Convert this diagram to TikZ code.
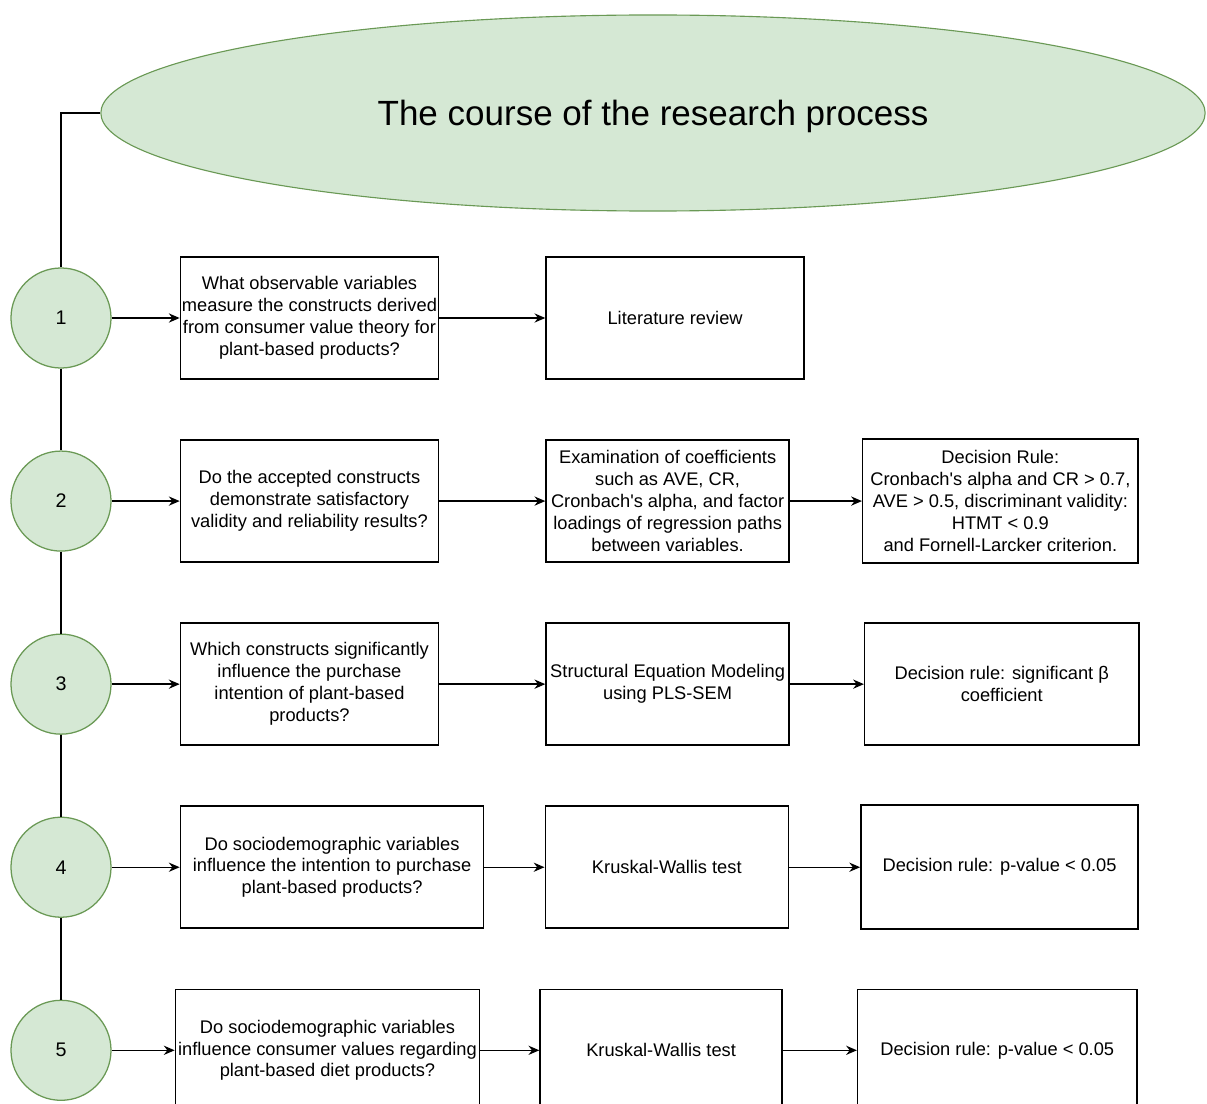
\documentclass[tikz,border=0pt]{standalone}
\usepackage{fontspec}
\setmainfont{Liberation Sans}
\usetikzlibrary{shapes.geometric, arrows.meta, positioning}
\definecolor{nodegreen}{HTML}{D5E8D4}
\definecolor{edgegreen}{HTML}{6A9955}

\begin{document}
\begin{tikzpicture}[
    x=0.025cm, y=-0.025cm,
    qbox/.style={draw=black, line width=1.1pt, fill=white, font=\fontsize{13}{15.6}\selectfont, align=center, inner sep=1pt, minimum height=3.05cm},
    stepnum/.style={circle, draw=edgegreen, fill=nodegreen, line width=0.9pt, minimum size=2.5cm, inner sep=0pt, font=\fontsize{14}{16}\selectfont},
    banner/.style={ellipse, draw=edgegreen, fill=nodegreen, line width=0.8pt, minimum width=27.6cm, minimum height=4.9cm, inner sep=0pt, text depth=0pt, font=\fontsize{24.9}{28}\selectfont},
    arrow/.style={-{Stealth[length=2.7mm, width=2.3mm]}, line width=1pt, black},
    link/.style={line width=1pt, black}
]
\useasboundingbox (0,0) rectangle (1207,1103);
\clip (0,0) rectangle (1207,1103);

% Title
\node (title) [banner] at (653,113) {The course of the research process};

% Steps
\node (c1) [stepnum] at (61,318) {1};
\node (c2) [stepnum, below=2.044cm of c1] {2};
\node (c3) [stepnum, below=2.044cm of c2] {3};
\node (c4) [stepnum, below=2.044cm of c3] {4};
\node (c5) [stepnum, below=2.044cm of c4] {5};

% 1. Observable variables
\node (q1) [qbox, minimum width=6.45cm, right=1.7cm of c1] {What observable variables\\measure the constructs derived\\from consumer value theory for\\plant-based products?};
\node (m1) [qbox, minimum width=6.45cm, right=2.65cm of q1] {Literature review};

% 2. Validity and reliability
\node (q2) [qbox, minimum width=6.45cm, right=1.7cm of c2] {Do the accepted constructs\\demonstrate satisfactory\\validity and reliability results?};
\node (m2) [qbox, minimum width=6.075cm, right=2.65cm of q2] {Examination of coefficients\\such as AVE, CR,\\Cronbach\textquotesingle s alpha, and factor\\loadings of regression paths\\between variables.};
\node (r2) [qbox, minimum width=6.88cm, minimum height=3.1cm, right=1.8cm of m2] {Decision Rule:\\Cronbach\textquotesingle s alpha and CR > 0.7,\\AVE > 0.5, discriminant validity:\\HTMT < 0.9\\and Fornell-Larcker criterion.};

% 3. Purchase intention
\node (q3) [qbox, minimum width=6.45cm, right=1.7cm of c3] {Which constructs significantly\\influence the purchase\\intention of plant-based\\products?};
\node (m3) [qbox, minimum width=6.075cm, right=2.65cm of q3] {Structural Equation Modeling\\using PLS-SEM};
\node (r3) [qbox, minimum width=6.85cm, right=1.85cm of m3] {Decision rule: significant β\\coefficient};

% 4. Sociodemographics and intention
\node (q4) [qbox, minimum width=7.58cm, right=1.7cm of c4] {Do sociodemographic variables\\influence the intention to purchase\\plant-based products?};
\node (m4) [qbox, minimum width=6.075cm, right=1.5cm of q4] {Kruskal-Wallis test};
\node (r4) [qbox, minimum width=6.93cm, minimum height=3.1cm, right=1.775cm of m4] {Decision rule: p-value < 0.05};

% 5. Sociodemographics and values
\node (q5) [qbox, minimum width=7.6cm, right=1.575cm of c5] {Do sociodemographic variables\\influence consumer values regarding\\plant-based diet products?};
\node (m5) [qbox, minimum width=6.05cm, right=1.475cm of q5] {Kruskal-Wallis test};
\node (r5) [qbox, minimum width=6.975cm, right=1.85cm of m5] {Decision rule: p-value < 0.05};

% Spine
\draw [link] (title.west) -| (c1.north);
\draw [link] (c1) -- (c2);
\draw [link] (c2) -- (c3);
\draw [link] (c3) -- (c4);
\draw [link] (c4) -- (c5);

% Connectors
\draw [arrow] (c1) -- (q1);
\draw [arrow] (q1) -- (m1);
\draw [arrow] (c2) -- (q2);
\draw [arrow] (q2) -- (m2);
\draw [arrow] (m2) -- (r2);
\draw [arrow] (c3) -- (q3);
\draw [arrow] (q3) -- (m3);
\draw [arrow] (m3) -- (r3);
\draw [arrow] (c4) -- (q4);
\draw [arrow] (q4) -- (m4);
\draw [arrow] (m4) -- (r4);
\draw [arrow] (c5) -- (q5);
\draw [arrow] (q5) -- (m5);
\draw [arrow] (m5) -- (r5);

\end{tikzpicture}
\end{document}
